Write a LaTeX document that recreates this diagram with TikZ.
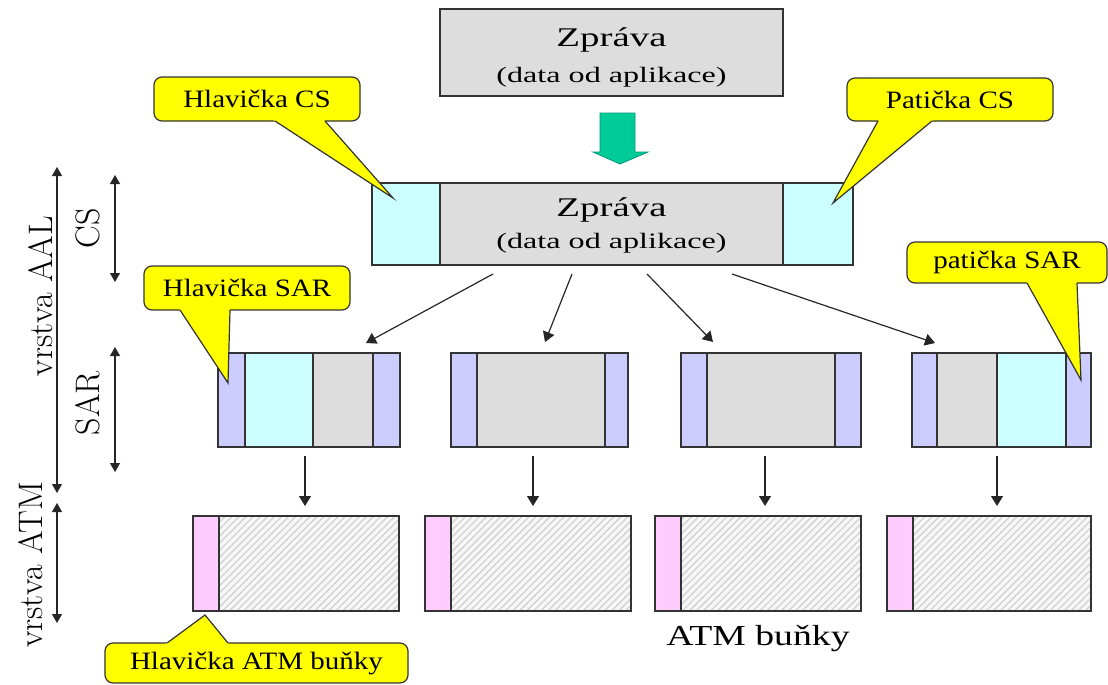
\documentclass[tikz,border=0pt]{standalone}
\usepackage{fontspec}
\setmainfont{Liberation Serif}
\newfontfamily\sideserif{Latin Modern Roman}
\usetikzlibrary{arrows.meta,calc,patterns.meta}

\definecolor{msggray}{HTML}{DDDDDD}
\definecolor{hdrcyan}{HTML}{CCFFFF}
\definecolor{sarlilac}{HTML}{CCCCFF}
\definecolor{atmpink}{HTML}{FFCCFF}
\definecolor{callyellow}{HTML}{FFFF00}
\definecolor{flowgreen}{HTML}{00CC99}
\definecolor{flowedge}{HTML}{009977}
\definecolor{edge}{HTML}{333333}
\definecolor{hatchline}{HTML}{CFCFCF}
\definecolor{hatchbg}{HTML}{F7F7F7}

% font size in pt, and a horizontal stretch for text
\newcommand{\setfs}[1]{\fontsize{#1}{#1}\selectfont}
\newcommand{\wide}[2]{\scalebox{#1}[1]{#2}}
\newcommand{\calltext}[1]{\setfs{25}\wide{1.16}{#1}}
% side labels, turned a quarter turn to read upwards
\newcommand{\sidetext}[1]{\rotatebox{90}{\sideserif\setfs{34}#1}}

% one coloured segment of a cell: name, x1, x2, y1, y2, fill
\newcommand{\seg}[6]{\node[seg,fill=#6,minimum width={#3pt-#2pt},minimum height={#5pt-#4pt}] (#1) at (#2,#4) {};}
% hatched payload segment of an ATM cell
\newcommand{\hseg}[5]{\node[seg,preaction={fill=hatchbg},pattern={Lines[angle=45,distance=5pt,line width=1.2pt]},pattern color=hatchline,minimum width={#3pt-#2pt},minimum height={#5pt-#4pt}] (#1) at (#2,#4) {};}

\tikzset{
  seg/.style={draw=edge, line width=1.5pt, anchor=north west, inner sep=0pt, outer sep=0pt},
  callbody/.style={draw=edge, line width=1.2pt, fill=callyellow, rounded corners=8pt,
                   anchor=north west, inner sep=0pt, outer sep=0pt},
  calledge/.style={draw=edge, line width=1.2pt, line join=miter},
  arr/.style={draw=black!85, line width=1.2pt, -{Triangle[width=12pt,length=10pt]}},
  span/.style={draw=black!85, line width=1.2pt,
               {Triangle[width=10pt,length=9pt]}-{Triangle[width=10pt,length=9pt]}},
  sidelabel/.style={anchor=east, inner sep=0pt},
}

\begin{document}
\begin{tikzpicture}[x=1pt,y=-1pt]
\useasboundingbox (0,0) rectangle (1108,685);

% ---- message from the application ----
\seg{msg}{440}{783}{9}{96}{msggray}
\node[anchor=base, inner sep=0pt] (msgtitle) at (611.5,47) {\setfs{27}\wide{1.44}{Zpráva}};
\node[anchor=base, inner sep=0pt] (msgsub) at (611.5,82) {\setfs{22}\wide{1.46}{(data od aplikace)}};

% ---- green flow arrow ----
\fill[flowgreen, draw=flowedge, line width=0.8pt]
  (600,113) -- (635,113) -- (635,152) -- (648,152) -- (620,164) -- (593,152) -- (600,152) -- cycle;

% ---- CS layer: header, message, trailer ----
\seg{cshead}{372}{440}{183}{265}{hdrcyan}
\seg{csmsg}{440}{783}{183}{265}{msggray}
\seg{cstrail}{783}{853}{183}{265}{hdrcyan}
\node[anchor=base, inner sep=0pt] (cstitle) at (611.5,216) {\setfs{27}\wide{1.44}{Zpráva}};
\node[anchor=base, inner sep=0pt] (cssub) at (611.5,248) {\setfs{22}\wide{1.46}{(data od aplikace)}};

% ---- SAR layer: four segments ----
\seg{s1h}{218}{245}{353}{447}{sarlilac}
\seg{s1c}{245}{313}{353}{447}{hdrcyan}
\seg{s1d}{313}{373}{353}{447}{msggray}
\seg{s1t}{373}{400}{353}{447}{sarlilac}

\seg{s2h}{451}{477}{353}{447}{sarlilac}
\seg{s2d}{477}{605}{353}{447}{msggray}
\seg{s2t}{605}{628}{353}{447}{sarlilac}

\seg{s3h}{681}{707}{353}{447}{sarlilac}
\seg{s3d}{707}{835}{353}{447}{msggray}
\seg{s3t}{835}{861}{353}{447}{sarlilac}

\seg{s4h}{912}{937}{353}{447}{sarlilac}
\seg{s4d}{937}{997}{353}{447}{msggray}
\seg{s4c}{997}{1066}{353}{447}{hdrcyan}
\seg{s4t}{1066}{1091}{353}{447}{sarlilac}

% ---- ATM layer: cells ----
\seg{a1h}{193}{219}{516}{611}{atmpink}
\hseg{a1p}{219}{399}{516}{611}
\seg{a2h}{425}{451}{516}{611}{atmpink}
\hseg{a2p}{451}{631}{516}{611}
\seg{a3h}{655}{681}{516}{611}{atmpink}
\hseg{a3p}{681}{861}{516}{611}
\seg{a4h}{887}{913}{516}{611}{atmpink}
\hseg{a4p}{913}{1091}{516}{611}

\node[anchor=base, inner sep=0pt] (cells) at (758,645) {\setfs{29}\wide{1.3}{ATM buňky}};

% ---- segmentation arrows (CS -> SAR) ----
\coordinate (d1a) at (493,274); \coordinate (d1b) at (366,343);
\coordinate (d2a) at (572,274); \coordinate (d2b) at (545,342);
\coordinate (d3a) at (647,274); \coordinate (d3b) at (713,342);
\coordinate (d4a) at (732,274); \coordinate (d4b) at (935,343);
\draw[arr] (d1a) -- (d1b);
\draw[arr] (d2a) -- (d2b);
\draw[arr] (d3a) -- (d3b);
\draw[arr] (d4a) -- (d4b);

% ---- SAR -> ATM arrows ----
\coordinate (v1a) at (305,456); \coordinate (v1b) at (305,506);
\coordinate (v2a) at (533,456); \coordinate (v2b) at (533,506);
\coordinate (v3a) at (765,456); \coordinate (v3b) at (765,506);
\coordinate (v4a) at (997,456); \coordinate (v4b) at (997,506);
\draw[arr] (v1a) -- (v1b);
\draw[arr] (v2a) -- (v2b);
\draw[arr] (v3a) -- (v3b);
\draw[arr] (v4a) -- (v4b);

% ---- layer spans on the left ----
\coordinate (aalt) at (57,167); \coordinate (aalb) at (57,493);
\coordinate (atmt) at (57,503); \coordinate (atmb) at (57,623);
\coordinate (cst) at (115,175); \coordinate (csb) at (115,282);
\coordinate (sart) at (115,347); \coordinate (sarb) at (115,472);
\draw[span] (aalt) -- (aalb);
\draw[span] (atmt) -- (atmb);
\draw[span] (cst) -- (csb);
\draw[span] (sart) -- (sarb);
\node[sidelabel] (aallabel) at (53,296) {\sidetext{vrstva AAL}};
\node[sidelabel] (atmlabel) at (43,565) {\sidetext{vrstva ATM}};
\node[sidelabel] (cslabel) at (100,228) {\sidetext{CS}};
\node[sidelabel] (sarlabel) at (100,403) {\sidetext{SAR}};

% ---- callouts ----
% Hlavička CS
\node[callbody, minimum width=206pt, minimum height=44pt] (hcs) at (154,77) {\calltext{Hlavička CS}};
\coordinate (hcs-l) at (275,121); \coordinate (hcs-r) at (325,121); \coordinate (hcs-tip) at (393,198);
\fill[callyellow] ($(hcs-l)!-5pt!(hcs-tip)$) -- (hcs-tip) -- ($(hcs-r)!-5pt!(hcs-tip)$) -- cycle;
\draw[calledge] (hcs-l) -- (hcs-tip) -- (hcs-r);

% Patička CS
\node[callbody, minimum width=206pt, minimum height=43pt] (pcs) at (847,78) {\calltext{Patička CS}};
\coordinate (pcs-l) at (878,121); \coordinate (pcs-r) at (932,121); \coordinate (pcs-tip) at (833,203);
\fill[callyellow] ($(pcs-l)!-5pt!(pcs-tip)$) -- (pcs-tip) -- ($(pcs-r)!-5pt!(pcs-tip)$) -- cycle;
\draw[calledge] (pcs-l) -- (pcs-tip) -- (pcs-r);

% Hlavička SAR
\node[callbody, minimum width=206pt, minimum height=44pt] (hsar) at (144,266) {\calltext{Hlavička SAR}};
\coordinate (hsar-l) at (180,310); \coordinate (hsar-r) at (230,310); \coordinate (hsar-tip) at (228,383);
\fill[callyellow] ($(hsar-l)!-5pt!(hsar-tip)$) -- (hsar-tip) -- ($(hsar-r)!-5pt!(hsar-tip)$) -- cycle;
\draw[calledge] (hsar-l) -- (hsar-tip) -- (hsar-r);

% patička SAR
\node[callbody, minimum width=200pt, minimum height=41pt] (psar) at (907,242) {\calltext{patička SAR}};
\coordinate (psar-l) at (1027,283); \coordinate (psar-r) at (1077,283); \coordinate (psar-tip) at (1081,380);
\fill[callyellow] ($(psar-l)!-5pt!(psar-tip)$) -- (psar-tip) -- ($(psar-r)!-5pt!(psar-tip)$) -- cycle;
\draw[calledge] (psar-l) -- (psar-tip) -- (psar-r);

% Hlavička ATM buňky
\node[callbody, minimum width=303pt, minimum height=40pt] (hatm) at (105,643) {\calltext{Hlavička ATM buňky}};
\coordinate (hatm-l) at (167,643); \coordinate (hatm-r) at (228,643); \coordinate (hatm-tip) at (205,615);
\fill[callyellow] ($(hatm-l)!-5pt!(hatm-tip)$) -- (hatm-tip) -- ($(hatm-r)!-5pt!(hatm-tip)$) -- cycle;
\draw[calledge] (hatm-l) -- (hatm-tip) -- (hatm-r);

\end{tikzpicture}
\end{document}
